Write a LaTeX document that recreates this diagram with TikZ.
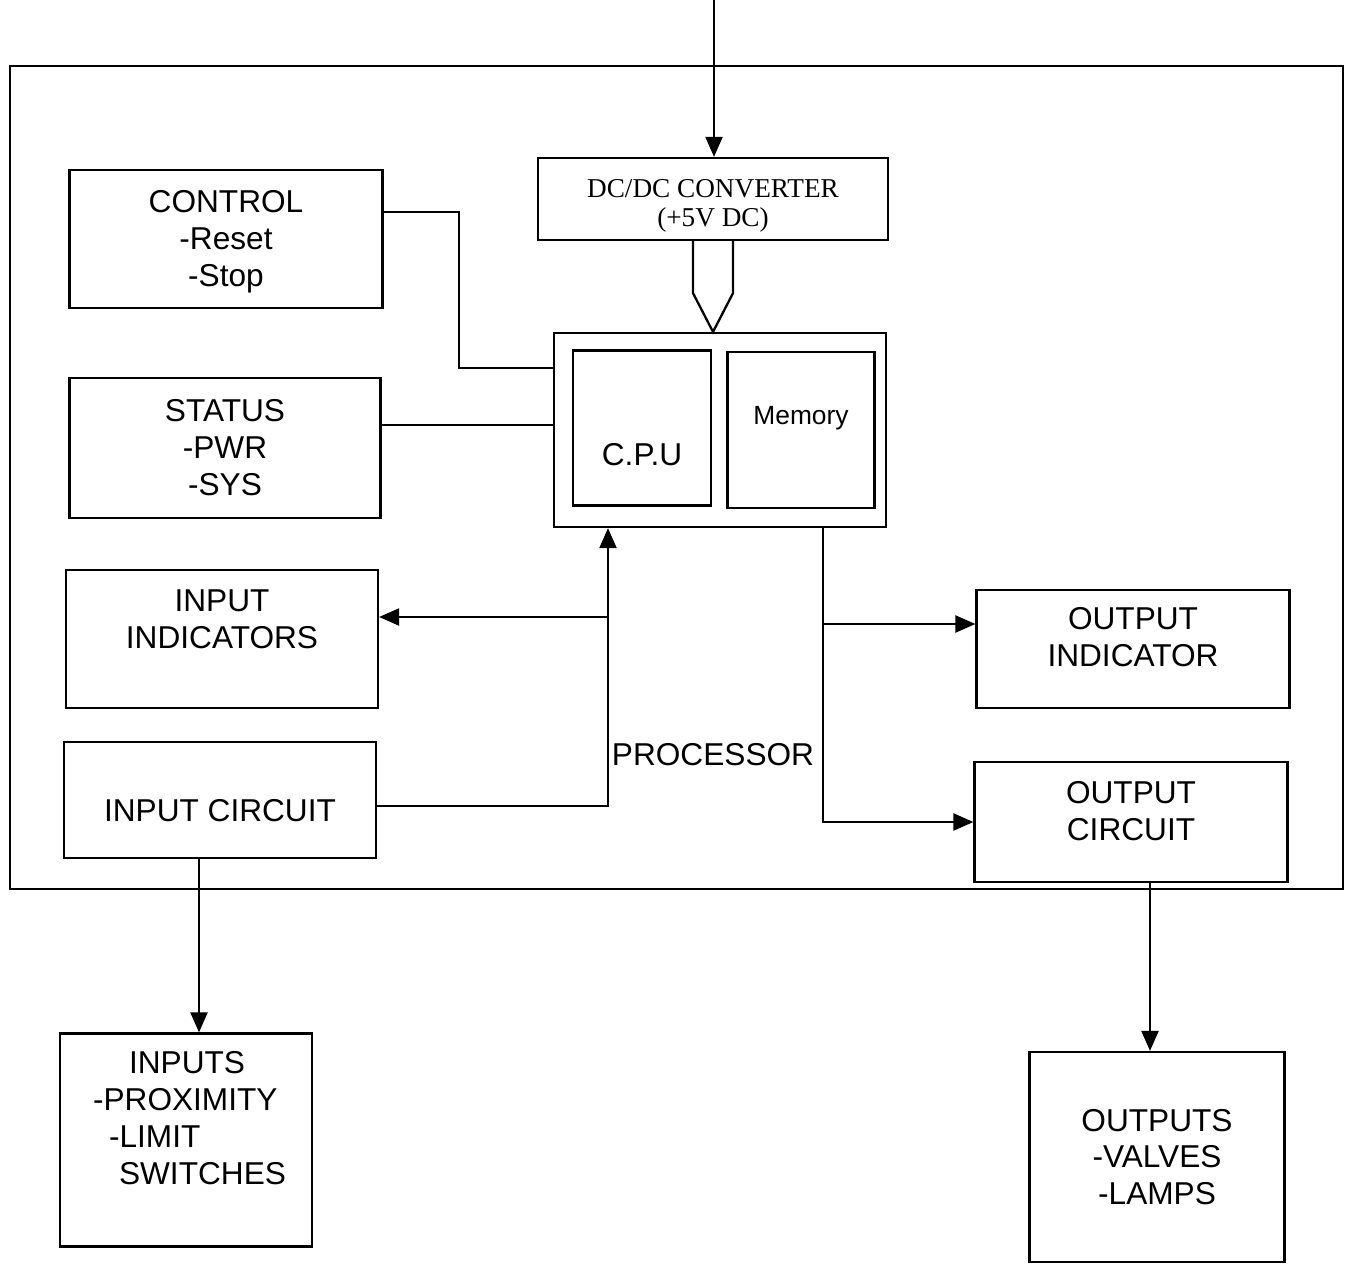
\documentclass[tikz,border=0pt]{standalone}
\usepackage{fontspec}
\usepackage{tikz}
\usetikzlibrary{arrows.meta}
\newfontfamily\arialfont{Liberation Sans}
\newfontfamily\timesfont{Liberation Serif}

\begin{document}
\begin{tikzpicture}[x=0.02cm, y=-0.02cm,
  block/.style={draw, line width=1.3pt, inner sep=0pt},
  txt/.style={font=\arialfont\fontsize{18}{21}\selectfont, align=center},
  wire/.style={line width=1.3pt},
  arr/.style={line width=1.3pt, -{Triangle[length=0.4cm, width=0.34cm]}}]
  \useasboundingbox (0,0) rectangle (1364,1264);
  \node[block, minimum width=26.66cm, minimum height=16.46cm] (frame) at (676.5,477.5) {};
  \node[block, minimum width=7cm, minimum height=1.64cm,
    label={[align=center, font=\timesfont\fontsize{15.5}{16.5}\selectfont, yshift=-0.13cm]center:{DC/DC CONVERTER\\(+5V DC)}}] (dcdc) at (713,199) {};
  \node[block, minimum width=6.64cm, minimum height=3.88cm] (proc) at (720,430) {};
  \node[block, minimum width=2.76cm, minimum height=3.1cm,
    label={[txt, yshift=-0.54cm]center:C.P.U}] (cpu) at (642,428) {};
  \node[block, minimum width=2.94cm, minimum height=3.12cm,
    label={[txt, font=\arialfont\fontsize{15}{17}\selectfont, yshift=0.24cm]center:Memory}] (mem) at (801,430) {};
  \node[block, minimum width=6.26cm, minimum height=2.76cm,
    label={[txt, yshift=-0.06cm]center:{CONTROL\\-Reset\\-Stop}}] (control) at (226,239) {};
  \node[block, minimum width=6.22cm, minimum height=2.8cm,
    label={[txt]center:{STATUS\\-PWR\\-SYS}}] (status) at (225,448) {};
  \node[block, minimum width=6.24cm, minimum height=2.76cm,
    label={[txt, yshift=0.4cm]center:{INPUT\\INDICATORS}}] (inind) at (222,639) {};
  \node[block, minimum width=6.24cm, minimum height=2.32cm,
    label={[txt, yshift=-0.22cm]center:INPUT CIRCUIT}] (incirc) at (220,800) {};
  \node[block, minimum width=6.26cm, minimum height=2.36cm,
    label={[txt, yshift=0.23cm]center:{OUTPUT\\INDICATOR}}] (outind) at (1133,649) {};
  \node[block, minimum width=6.26cm, minimum height=2.4cm,
    label={[txt, yshift=0.22cm]center:{OUTPUT\\CIRCUIT}}] (outcirc) at (1131,822) {};
  \node[block, minimum width=5.04cm, minimum height=4.26cm,
    label={[txt, align=left, xshift=0.07cm, yshift=0.44cm]center:{\hspace*{0.72cm}INPUTS\\-PROXIMITY\\\hspace*{0.32cm}-LIMIT\\\hspace*{0.52cm}SWITCHES}}] (inputs) at (186,1140) {};
  \node[block, minimum width=5.1cm, minimum height=4.2cm,
    label={[txt]center:{OUTPUTS\\-VALVES\\-LAMPS}}] (outputs) at (1157,1157) {};
  \node[txt] (proclbl) at (713,755) {PROCESSOR};

  % supply and +5V feed
  \coordinate (supply) at (714,0);
  \draw[arr] (supply) -- (supply |- dcdc.north);
  \draw[wire] ([xshift=-0.4cm]dcdc.south) -- ++(0,52) -- (proc.north -| dcdc.south)
    -- ([shift={(0.4cm,-1.04cm)}]dcdc.south) -- ([xshift=0.4cm]dcdc.south);

  % control and status lines
  \coordinate (cbend) at (459,368);
  \draw[wire] ([yshift=0.54cm]control.east) -| (cbend) -- (cbend -| proc.west);
  \draw[wire] ([yshift=0.46cm]status.east) -- ([yshift=0.46cm]status.east -| proc.west);

  % input side
  \coordinate (inup) at (608,617);
  \draw[arr] ([yshift=-0.12cm]incirc.east) -| (inup |- proc.south);
  \draw[arr] (inup) -- (inup -| inind.east);
  \draw[arr] ([xshift=-0.42cm]incirc.south) -- ([xshift=-0.42cm]incirc.south |- inputs.north);

  % output side
  \coordinate (outdn) at (823,624);
  \draw[arr] (outdn |- proc.south) |- (outcirc.west);
  \draw[arr] (outdn) -- (outdn -| outind.west);
  \draw[arr] ([xshift=0.38cm]outcirc.south) -- ([xshift=0.38cm]outcirc.south |- outputs.north);
\end{tikzpicture}
\end{document}
